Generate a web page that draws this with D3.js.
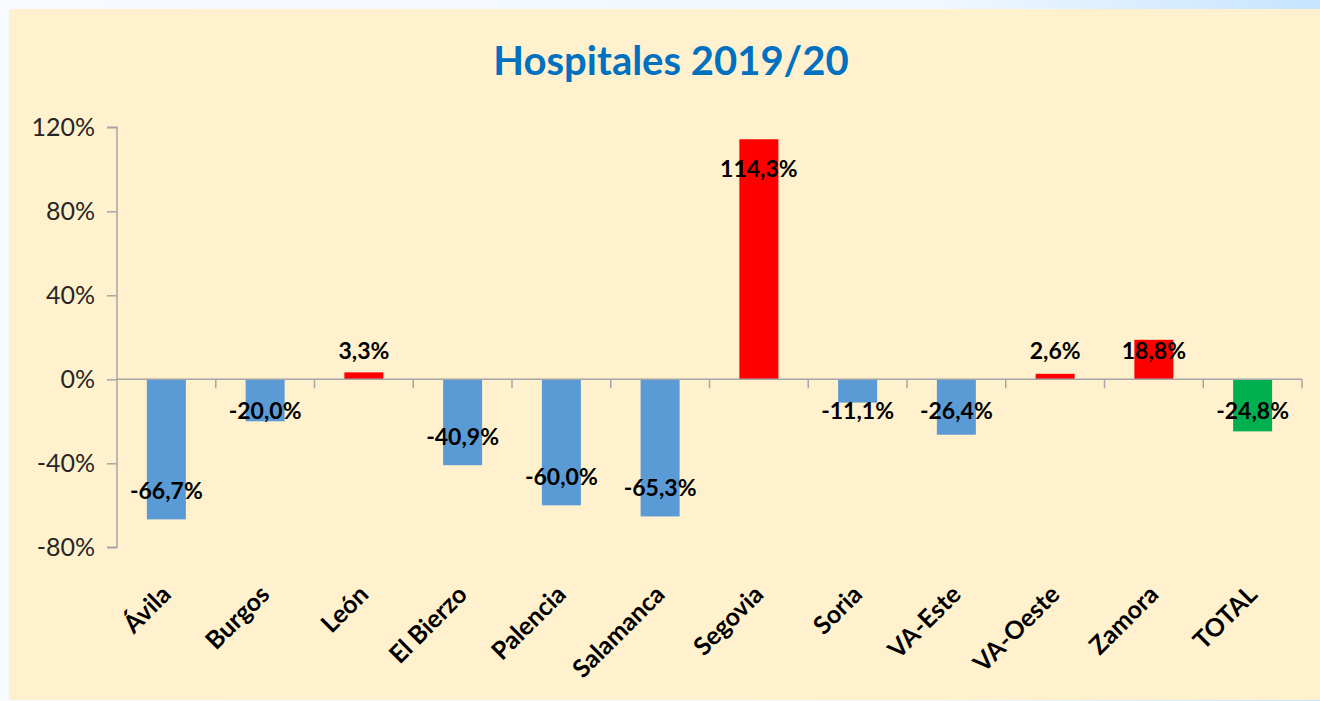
<!DOCTYPE html>
<html><head><meta charset="utf-8">
<script src="https://cdn.jsdelivr.net/npm/d3@7"></script>
<style>html,body{margin:0;padding:0;overflow:hidden;background:#fff}</style>
</head><body>
<svg id="c" width="1320" height="701"></svg>
<script>
const categories = ["Ávila","Burgos","León","El Bierzo","Palencia","Salamanca","Segovia","Soria","VA-Este","VA-Oeste","Zamora","TOTAL"];
const values = [-0.667,-0.200,0.033,-0.409,-0.600,-0.653,1.143,-0.111,-0.264,0.026,0.188,-0.248];
const valueLabels = ["-66,7%","-20,0%","3,3%","-40,9%","-60,0%","-65,3%","114,3%","-11,1%","-26,4%","2,6%","18,8%","-24,8%"];
const yTicks = [-0.8,-0.4,0,0.4,0.8,1.2];
const yTickLabels = ["-80%","-40%","0%","40%","80%","120%"];
const title = "Hospitales 2019/20";

const svg = d3.select("#c");
const defs = svg.append("defs");
const g1 = defs.append("linearGradient").attr("id","bg").attr("x1","0").attr("x2","1").attr("y1","0").attr("y2","0");
g1.append("stop").attr("offset","0").attr("stop-color","#f7faff");
g1.append("stop").attr("offset","0.7").attr("stop-color","#f2f8ff");
g1.append("stop").attr("offset","1").attr("stop-color","#c6e4ff");
svg.append("rect").attr("width",1320).attr("height",701).attr("fill","url(#bg)");
svg.append("rect").attr("x",9).attr("y",9).attr("width",1311).attr("height",691).attr("fill","#FFF1CD");

svg.append("text").attr("x",671).attr("y",75).attr("text-anchor","middle")
  .attr("font-family","Lato, sans-serif").attr("font-weight","bold").attr("font-size",40)
  .attr("fill","#0070C0").text(title);

const x = d3.scaleBand().domain(categories).range([117,1302]).padding(0);
const y = d3.scaleLinear().domain([-0.8,1.2]).range([547.3,127.3]);
const bw = x.bandwidth()*0.395;

const colorOf = (c,v) => c==="TOTAL" ? "#00B050" : (v>=0 ? "#FF0000" : "#5B9BD5");

// bars
svg.append("g").selectAll("rect").data(values).join("rect")
  .attr("x",(d,i)=>x(categories[i])+(x.bandwidth()-bw)/2)
  .attr("y",d=>y(Math.max(0,d)))
  .attr("width",bw)
  .attr("height",d=>Math.abs(y(d)-y(0)))
  .attr("fill",(d,i)=>colorOf(categories[i],d));

// y axis
const yAxis = d3.axisLeft(y).tickValues(yTicks).tickFormat((d)=>yTickLabels[yTicks.indexOf(d)]).tickSize(10).tickPadding(12);
const ya = svg.append("g").attr("transform","translate(117,0)").call(yAxis);
ya.select(".domain").attr("stroke","#A6A6A6").attr("stroke-width",1.5).attr("d","M-10,127.3H0V547.3H-10");
ya.selectAll(".tick line").attr("stroke","#A6A6A6").attr("stroke-width",1.5);
ya.selectAll(".tick text").attr("font-family","Lato, sans-serif").attr("font-size",25).attr("fill","#262626");

// x axis line at 0 with ticks at band boundaries
const xa = svg.append("g");
xa.append("line").attr("x1",117).attr("x2",1302).attr("y1",y(0)).attr("y2",y(0)).attr("stroke","#A6A6A6").attr("stroke-width",1.5);
const bounds = categories.map(c=>x(c)).concat([x.range()[1]]);
xa.selectAll("line.t").data(bounds.slice(1)).join("line").attr("class","t")
  .attr("x1",d=>d).attr("x2",d=>d).attr("y1",y(0)).attr("y2",y(0)+9)
  .attr("stroke","#A6A6A6").attr("stroke-width",1.5);

// category labels
svg.append("g").selectAll("text").data(categories).join("text")
  .attr("transform",c=>`translate(${x(c)+x.bandwidth()/2+6},596) rotate(-45)`)
  .attr("text-anchor","end")
  .attr("font-family","Lato, sans-serif").attr("font-weight","bold").attr("font-size",25)
  .attr("fill","#000").text(c=>c);

// value labels
svg.append("g").selectAll("text").data(values).join("text")
  .attr("x",(d,i)=>x(categories[i])+x.bandwidth()/2)
  .attr("y",d=> d>=0 ? Math.min(y(d)+30, y(0)-28) : Math.max(y(d)-28, y(0)+32))
  .attr("dy","0.35em")
  .attr("text-anchor","middle")
  .attr("font-family","Lato, sans-serif").attr("font-weight","bold").attr("font-size",23)
  .attr("fill","#000").text((d,i)=>valueLabels[i]);
</script>
</body></html>
